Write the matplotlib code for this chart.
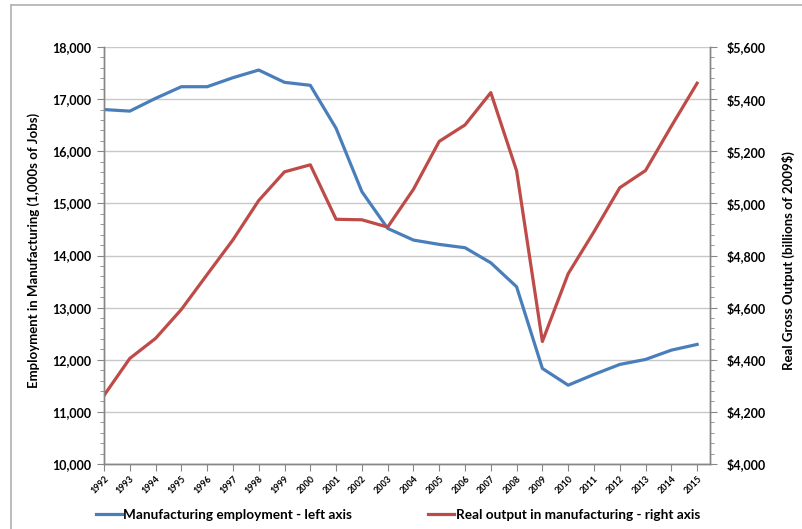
import matplotlib
matplotlib.use("Agg")
import matplotlib.pyplot as plt
from matplotlib.ticker import FuncFormatter, MultipleLocator
from matplotlib.lines import Line2D

years = [str(y) for y in range(1992, 2016)]
employment = [16800, 16770, 17015, 17238, 17238, 17411, 17558, 17322, 17265, 16440,
              15225, 14520, 14296, 14213, 14149, 13860, 13400, 11833, 11512, 11718,
              11910, 12006, 12184, 12294]
output = [4263, 4405, 4482, 4593, 4727, 4860, 5011, 5121, 5148, 4939,
          4937, 4909, 5054, 5238, 5301, 5425, 5125, 4470, 4730, 4891,
          5060, 5126, 5296, 5461]

plt.rcParams['font.family'] = ['Lato', 'DejaVu Sans']
plt.rcParams['font.weight'] = 'bold'

blue = "#4a7ebb"
red = "#be4b48"
spine_c = "#868686"
grid_c = "#c8c8c8"

fig = plt.figure(figsize=(8.03, 5.29), dpi=100)
ax = fig.add_axes([104/803, 1-464/529, (710-104)/803, (464-47)/529])
ax2 = ax.twinx()

x = list(range(len(years)))
l1, = ax.plot(x, employment, color=blue, lw=2.3, solid_joinstyle='round')
l2, = ax2.plot(x, output, color=red, lw=2.3, solid_joinstyle='round')

ax.set_xlim(0, 23.5)
ax.set_ylim(10000, 18000)
ax2.set_ylim(4000, 5600)

ax.yaxis.set_major_locator(MultipleLocator(1000))
ax.yaxis.set_minor_locator(MultipleLocator(200))
ax2.yaxis.set_major_locator(MultipleLocator(200))
ax2.yaxis.set_minor_locator(MultipleLocator(40))
ax.yaxis.set_major_formatter(FuncFormatter(lambda v, p: f"{int(v):,}"))
ax2.yaxis.set_major_formatter(FuncFormatter(lambda v, p: f"${int(v):,}"))

ax.set_xticks(x)
ax.set_xticklabels(years, rotation=45, ha='right', rotation_mode='anchor',
                   fontsize=6.5, fontweight='bold')
ax.tick_params(axis='x', length=5, color=spine_c, pad=2)
ax.tick_params(axis='y', which='major', length=5, color=spine_c, labelsize=9, pad=4)
ax.tick_params(axis='y', which='minor', length=3, color=spine_c)
ax2.tick_params(axis='y', which='major', length=5, color=spine_c, labelsize=9, pad=7)
ax2.tick_params(axis='y', which='minor', length=3, color=spine_c)

ax.grid(axis='y', color=grid_c, lw=1)
ax.set_axisbelow(True)

for a in (ax, ax2):
    a.spines['top'].set_visible(False)
    for s in ('left', 'right', 'bottom'):
        a.spines[s].set_color(spine_c)
        a.spines[s].set_linewidth(1)

fig.text(34/803, 1-250/529, "Employment in Manufacturing (1,000s of Jobs)",
         rotation=90, ha='center', va='center', fontsize=9.5, fontweight='bold')
fig.text(788/803, 1-261/529, "Real Gross Output (billions of 2009$)",
         rotation=90, ha='center', va='center', fontsize=9.5, fontweight='bold')

fig.legend([l1, l2], ["Manufacturing employment - left axis",
                      "Real output in manufacturing - right axis"],
           loc='center', bbox_to_anchor=(398/803, 1-515/529), ncol=2,
           frameon=False, fontsize=9.8, handlelength=1.9, handletextpad=0.1,
           columnspacing=5.6)

# outer chart border
fig.add_artist(Line2D([11/803, 11/803], [0, 1-5/529], transform=fig.transFigure,
                      color="#b0b0b0", lw=1.2))
fig.add_artist(Line2D([11/803, 1], [1-5/529, 1-5/529], transform=fig.transFigure,
                      color="#b0b0b0", lw=1.2))

fig.savefig("out.png", dpi=100, facecolor='white')
